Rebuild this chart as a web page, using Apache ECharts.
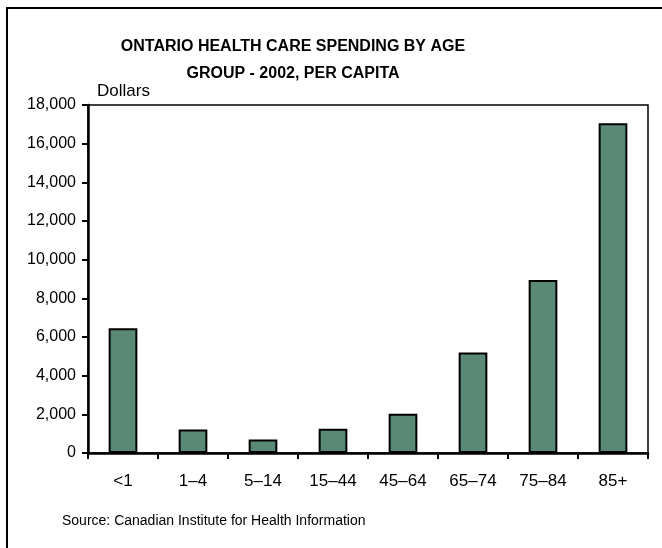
<!DOCTYPE html>
<html>
<head>
<meta charset="utf-8">
<script src="https://cdn.jsdelivr.net/npm/echarts@6/dist/echarts.min.js"></script>
<style>
  html, body { margin: 0; padding: 0; background: #fff; }
  #chart { width: 662px; height: 548px; }
</style>
</head>
<body>
<div id="chart"></div>
<script>
// Per-capita health care spending in Ontario, 2002, by age group (dollars)
const ageGroups = ['<1', '1–4', '5–14', '15–44', '45–64', '65–74', '75–84', '85+'];
const spending = [6450, 1220, 700, 1250, 2030, 5200, 8950, 17050];
const yTicks = { min: 0, max: 18000, interval: 2000 };

const font = '"Liberation Sans", Arial, sans-serif';
const chart = echarts.init(document.getElementById('chart'), null, { renderer: 'canvas' });

chart.setOption({
  animation: false,
  backgroundColor: '#ffffff',
  title: {
    text: 'ONTARIO HEALTH CARE SPENDING BY AGE\nGROUP - 2002, PER CAPITA',
    left: 288,
    textAlign: 'center',
    top: 28,
    textStyle: { fontFamily: font, fontSize: 16, fontWeight: 'bold', color: '#000', lineHeight: 27 }
  },
  grid: {
    left: 88, right: 14, top: 105, bottom: 95,
    show: true, borderColor: '#000', borderWidth: 1.5, backgroundColor: 'transparent'
  },
  xAxis: {
    type: 'category',
    data: ageGroups,
    axisLine: { lineStyle: { color: '#000', width: 2.5 } },
    axisTick: { show: true, length: 6, alignWithLabel: false, lineStyle: { color: '#000', width: 2 } },
    axisLabel: { fontFamily: font, fontSize: 17, color: '#000', margin: 20 }
  },
  yAxis: {
    type: 'value',
    min: yTicks.min, max: yTicks.max, interval: yTicks.interval,
    splitLine: { show: false },
    axisLine: { show: true, lineStyle: { color: '#000', width: 2.5 } },
    axisTick: { show: true, length: 6, lineStyle: { color: '#000', width: 2 } },
    axisLabel: {
      fontFamily: font, fontSize: 16, color: '#000', margin: 12,
      formatter: v => v.toLocaleString('en-US')
    }
  },
  series: [{
    type: 'bar',
    data: spending,
    barWidth: '41%',
    itemStyle: { color: '#5a8a76', borderColor: '#000', borderWidth: 2 }
  }],
  graphic: [
    {
      type: 'rect',
      shape: { x: 7, y: 8, width: 700, height: 600 },
      style: { fill: 'none', stroke: '#000', lineWidth: 2 },
      silent: true
    },
    {
      type: 'text',
      left: 97, top: 83,
      style: { text: 'Dollars', font: '17px ' + font, fill: '#000' }
    },
    {
      type: 'text',
      left: 62, top: 514,
      style: { text: 'Source: Canadian Institute for Health Information', font: '14px ' + font, fill: '#000' }
    }
  ]
});
</script>
</body>
</html>
